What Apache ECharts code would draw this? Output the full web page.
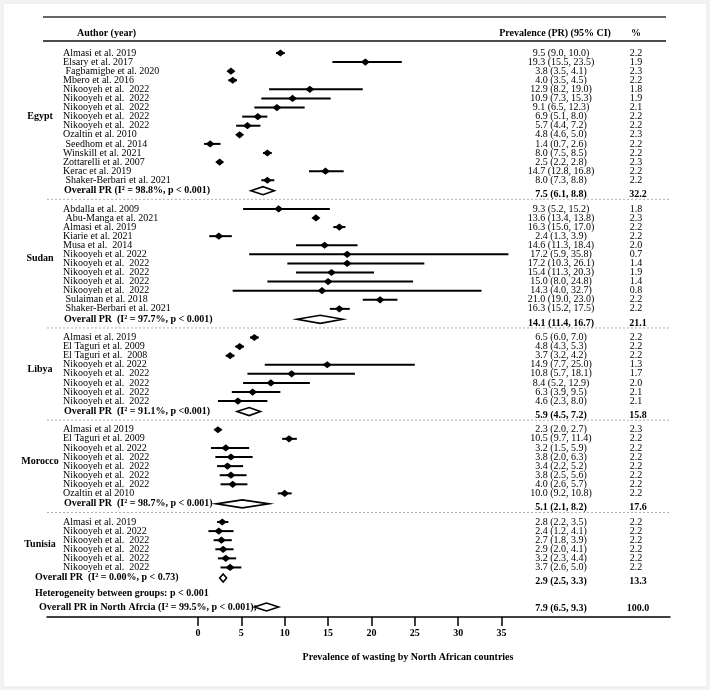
<!DOCTYPE html>
<html><head><meta charset="utf-8">
<script src="https://cdn.jsdelivr.net/npm/echarts@6/dist/echarts.min.js"></script>
<style>html,body{margin:0;padding:0;background:#f3f3f1;} #c{width:710px;height:690px;}</style>
</head><body><div id="c"></div>
<script>
// ---------------- data ----------------
const groupNames = ['Egypt', 'Sudan', 'Libya', 'Morocco', 'Tunisia'];

const egyptAuthors = ['Almasi et al. 2019', 'Elsary et al. 2017', ' Fagbamigbe et al. 2020', 'Mbero et al. 2016',
  'Nikooyeh et al.  2022', 'Nikooyeh et al.  2022', 'Nikooyeh et al.  2022', 'Nikooyeh et al.  2022', 'Nikooyeh et al.  2022',
  'Ozaltin et al. 2010', ' Seedhom et al. 2014', 'Winskill et al. 2021', 'Zottarelli et al. 2007', 'Kerac et al. 2019',
  ' Shaker-Berbari et al. 2021'];
const egyptPR = [9.5, 19.3, 3.8, 4.0, 12.9, 10.9, 9.1, 6.9, 5.7, 4.8, 1.4, 8.0, 2.5, 14.7, 8.0];
const egyptLow = [9.0, 15.5, 3.5, 3.5, 8.2, 7.3, 6.5, 5.1, 4.4, 4.6, 0.7, 7.5, 2.2, 12.8, 7.3];
const egyptHigh = [10.0, 23.5, 4.1, 4.5, 19.0, 15.3, 12.3, 8.0, 7.2, 5.0, 2.6, 8.5, 2.8, 16.8, 8.8];
const egyptWeight = [2.2, 1.9, 2.3, 2.2, 1.8, 1.9, 2.1, 2.2, 2.2, 2.3, 2.2, 2.2, 2.3, 2.2, 2.2];

const sudanAuthors = ['Abdalla et al. 2009', ' Abu-Manga et al. 2021', 'Almasi et al. 2019', 'Kiarie et al. 2021',
  'Musa et al.  2014', 'Nikooyeh et al. 2022', 'Nikooyeh et al.  2022', 'Nikooyeh et al.  2022', 'Nikooyeh et al.  2022',
  'Nikooyeh et al.  2022', ' Sulaiman et al. 2018', ' Shaker-Berbari et al. 2021'];
const sudanPR = [9.3, 13.6, 16.3, 2.4, 14.6, 17.2, 17.2, 15.4, 15.0, 14.3, 21.0, 16.3];
const sudanLow = [5.2, 13.4, 15.6, 1.3, 11.3, 5.9, 10.3, 11.3, 8.0, 4.0, 19.0, 15.2];
const sudanHigh = [15.2, 13.8, 17.0, 3.9, 18.4, 35.8, 26.1, 20.3, 24.8, 32.7, 23.0, 17.5];
const sudanWeight = [1.8, 2.3, 2.2, 2.2, 2.0, 0.7, 1.4, 1.9, 1.4, 0.8, 2.2, 2.2];

const libyaAuthors = ['Almasi et al. 2019', 'El Taguri et al. 2009', 'El Taguri et al.  2008', 'Nikooyeh et al. 2022',
  'Nikooyeh et al.  2022', 'Nikooyeh et al.  2022', 'Nikooyeh et al.  2022', 'Nikooyeh et al.  2022'];
const libyaPR = [6.5, 4.8, 3.7, 14.9, 10.8, 8.4, 6.3, 4.6];
const libyaLow = [6.0, 4.3, 3.2, 7.7, 5.7, 5.2, 3.9, 2.3];
const libyaHigh = [7.0, 5.3, 4.2, 25.0, 18.1, 12.9, 9.5, 8.0];
const libyaWeight = [2.2, 2.2, 2.2, 1.3, 1.7, 2.0, 2.1, 2.1];

const moroccoAuthors = ['Almasi et al 2019', 'El Taguri et al. 2009', 'Nikooyeh et al. 2022', 'Nikooyeh et al.  2022',
  'Nikooyeh et al.  2022', 'Nikooyeh et al.  2022', 'Nikooyeh et al.  2022', 'Ozaltin et al 2010'];
const moroccoPR = [2.3, 10.5, 3.2, 3.8, 3.4, 3.8, 4.0, 10.0];
const moroccoLow = [2.0, 9.7, 1.5, 2.0, 2.2, 2.5, 2.6, 9.2];
const moroccoHigh = [2.7, 11.4, 5.9, 6.3, 5.2, 5.6, 5.7, 10.8];
const moroccoWeight = [2.3, 2.2, 2.2, 2.2, 2.2, 2.2, 2.2, 2.2];

const tunisiaAuthors = ['Almasi et al. 2019', 'Nikooyeh et al. 2022', 'Nikooyeh et al.  2022', 'Nikooyeh et al.  2022',
  'Nikooyeh et al.  2022', 'Nikooyeh et al.  2022'];
const tunisiaPR = [2.8, 2.4, 2.7, 2.9, 3.2, 3.7];
const tunisiaLow = [2.2, 1.2, 1.8, 2.0, 2.3, 2.6];
const tunisiaHigh = [3.5, 4.1, 3.9, 4.1, 4.4, 5.0];
const tunisiaWeight = [2.2, 2.2, 2.2, 2.2, 2.2, 2.2];

const overallLabels = ['Overall PR (I² = 98.8%, p < 0.001)', 'Overall PR  (I² = 97.7%, p < 0.001)',
  'Overall PR  (I² = 91.1%, p <0.001)', 'Overall PR  (I² = 98.7%, p < 0.001)', 'Overall PR  (I² = 0.00%, p < 0.73)'];
const overallPR = [7.5, 14.1, 5.9, 5.1, 2.9];
const overallLow = [6.1, 11.4, 4.5, 2.1, 2.5];
const overallHigh = [8.8, 16.7, 7.2, 8.2, 3.3];
const overallWeight = [32.2, 21.1, 15.8, 17.6, 13.3];

const heterogeneityLabel = 'Heterogeneity between groups: p < 0.001';
const totalLabel = 'Overall PR in North Afrcia (I² = 99.5%, p < 0.001);';
const totalPR = 7.9, totalLow = 6.5, totalHigh = 9.3, totalWeight = 100.0;

const tickLabels = [0, 5, 10, 15, 20, 25, 30, 35];
const axisTitle = 'Prevalence of wasting by North African countries';
const headerAuthor = 'Author (year)';
const headerPR = 'Prevalence (PR) (95% CI)';
const headerWeight = '%';

// ---------------- layout ----------------
const groupsData = [
  [egyptAuthors, egyptPR, egyptLow, egyptHigh, egyptWeight],
  [sudanAuthors, sudanPR, sudanLow, sudanHigh, sudanWeight],
  [libyaAuthors, libyaPR, libyaLow, libyaHigh, libyaWeight],
  [moroccoAuthors, moroccoPR, moroccoLow, moroccoHigh, moroccoWeight],
  [tunisiaAuthors, tunisiaPR, tunisiaLow, tunisiaHigh, tunisiaWeight]
];
const rows = [];
const seps = [];
const groupLabelRows = [];
let pos = 0;
groupsData.forEach((g, gi) => {
  const first = pos;
  g[0].forEach((a, i) => {
    rows.push({kind: 'study', label: a, est: g[1][i], lo: g[2][i], hi: g[3][i], w: g[4][i], y: pos});
    pos += 1;
  });
  const last = pos - 1;
  groupLabelRows.push({name: groupNames[gi], y: (first + last) / 2});
  pos = last + 1.15;
  rows.push({kind: 'overall', label: overallLabels[gi], est: overallPR[gi], lo: overallLow[gi], hi: overallHigh[gi],
    w: overallWeight[gi], y: pos, indent: gi === 4});
  if (gi < groupsData.length - 1) {
    seps.push(pos + 0.95);
    pos = pos + 0.95 + 1.05;
  }
});
const hetY = pos + 1.75;
rows.push({kind: 'text', label: heterogeneityLabel, y: hetY});
const totalY = hetY + 1.45;
rows.push({kind: 'total', label: totalLabel, est: totalPR, lo: totalLow, hi: totalHigh, w: totalWeight, y: totalY});

// pixel layout
const zeroPx = 198, px35 = 501.5, axisLeft = 47, axisRight = 670;
const xu = (px35 - zeroPx) / 35;
const xMin = -(zeroPx - axisLeft) / xu;
const xMax = (axisRight - zeroPx) / xu;
const firstRowPx = 53, lastRowPx = 607, gridTop = 17, axisPx = 617;
const yu = (lastRowPx - firstRowPx) / totalY;
const yMin = -(firstRowPx - gridTop) / yu;
const yMax = totalY + (axisPx - lastRowPx) / yu;

const FONT = '"Liberation Serif", "Times New Roman", serif';
const authorX = 63, valueX = 561, weightX = 636, groupX = 40;

function txt(x, y, text, bold, align) {
  return {type: 'text', silent: true, style: {x: x, y: y, text: text, fill: '#000',
    font: (bold ? 'bold ' : '') + '10px ' + FONT, align: align || 'left', verticalAlign: 'middle'}};
}
function ci(r) { return r.est.toFixed(1) + ' (' + r.lo.toFixed(1) + ', ' + r.hi.toFixed(1) + ')'; }

function renderItem(params, api) {
  const r = rows[params.dataIndex];
  const c = api.coord([api.value(0), api.value(3)]);
  const cl = api.coord([api.value(1), api.value(3)]);
  const ch = api.coord([api.value(2), api.value(3)]);
  const yy = c[1];
  const ch_ = [];
  if (r.kind === 'study') {
    ch_.push({type: 'line', shape: {x1: cl[0], y1: yy, x2: ch[0], y2: yy}, style: {stroke: '#000', lineWidth: 2}});
    ch_.push({type: 'polygon', shape: {points: [[c[0] - 4.5, yy], [c[0], yy - 3.6], [c[0] + 4.5, yy], [c[0], yy + 3.6]]},
      style: {fill: '#000'}});
    ch_.push(txt(authorX, yy, r.label, false));
    ch_.push(txt(valueX, yy, ci(r), false, 'center'));
    ch_.push(txt(weightX, yy, r.w.toFixed(1), false, 'center'));
  } else if (r.kind === 'overall' || r.kind === 'total') {
    ch_.push({type: 'polygon', shape: {points: [[cl[0], yy], [c[0], yy - 4], [ch[0], yy], [c[0], yy + 4]]},
      style: {fill: '#fff', stroke: '#000', lineWidth: 1.6}});
    const lx = r.kind === 'total' ? 39 : (r.indent ? 35 : 64);
    ch_.push(txt(lx, yy, r.label, true));
    const off = r.kind === 'total' ? 1 : 4;
    ch_.push(txt(valueX, yy + off, ci(r), true, 'center'));
    ch_.push(txt(weightX + 2, yy + off, r.w.toFixed(1), true, 'center'));
  } else {
    ch_.push(txt(35, yy, r.label, true));
  }
  return {type: 'group', children: ch_};
}

function renderSep(params, api) {
  const p = api.coord([0, api.value(0)]);
  return {type: 'line', shape: {x1: axisLeft, y1: p[1], x2: axisRight, y2: p[1]},
    style: {stroke: '#b0b0b0', lineWidth: 1, lineDash: [2, 2]}};
}
function renderGroup(params, api) {
  const p = api.coord([0, api.value(0)]);
  return txt(groupX, p[1], groupLabelRows[params.dataIndex].name, true, 'center');
}

const chart = echarts.init(document.getElementById('c'), null, {renderer: 'canvas'});
chart.setOption({
  animation: false,
  backgroundColor: 'transparent',
  grid: {left: axisLeft, right: 710 - axisRight, top: gridTop, bottom: 690 - axisPx, containLabel: false},
  xAxis: {
    type: 'value', min: xMin, max: xMax,
    splitLine: {show: false},
    axisLine: {show: true, onZero: false, lineStyle: {color: '#000', width: 1.5}},
    axisTick: {show: true, customValues: tickLabels, length: 9, lineStyle: {color: '#000', width: 1.5}},
    axisLabel: {show: true, customValues: tickLabels, margin: 11, color: '#000', fontFamily: FONT,
      fontWeight: 'bold', fontSize: 10, formatter: v => String(v)}
  },
  yAxis: {type: 'value', inverse: true, min: yMin, max: yMax, show: false},
  graphic: [
    {type: 'rect', z: -10, shape: {x: 3, y: 3, width: 704, height: 684, r: 2},
      style: {fill: '#fff', stroke: '#e8e8e6', lineWidth: 1}},
    {type: 'line', shape: {x1: 43, y1: 17, x2: 666, y2: 17}, style: {stroke: '#333', lineWidth: 1.5}},
    {type: 'line', shape: {x1: 43, y1: 41, x2: 666, y2: 41}, style: {stroke: '#111', lineWidth: 1.5}},
    {type: 'text', style: {x: 77, y: 33, text: headerAuthor, font: 'bold 10px ' + FONT, fill: '#000', verticalAlign: 'middle'}},
    {type: 'text', style: {x: 555, y: 33, text: headerPR, font: 'bold 10px ' + FONT, fill: '#000', align: 'center', verticalAlign: 'middle'}},
    {type: 'text', style: {x: 636, y: 33, text: headerWeight, font: 'bold 10px ' + FONT, fill: '#000', align: 'center', verticalAlign: 'middle'}},
    {type: 'text', style: {x: 408, y: 657, text: axisTitle, font: 'bold 10px ' + FONT, fill: '#000', align: 'center', verticalAlign: 'middle'}}
  ],
  series: [
    {type: 'custom', renderItem: renderSep, data: seps.map(s => [s]), encode: {y: 0}, clip: false, silent: true},
    {type: 'custom', renderItem: renderGroup, data: groupLabelRows.map(g => [g.y]), encode: {y: 0}, clip: false, silent: true},
    {type: 'custom', renderItem: renderItem, clip: false, silent: true,
      data: rows.map(r => [r.est == null ? 0 : r.est, r.lo == null ? 0 : r.lo, r.hi == null ? 0 : r.hi, r.y]),
      encode: {x: [0, 1, 2], y: 3}}
  ]
});
</script></body></html>
